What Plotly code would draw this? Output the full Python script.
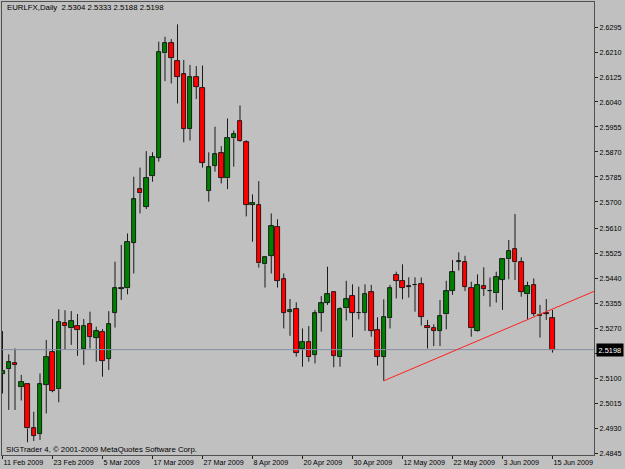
import plotly.graph_objects as go

# ---------------- data ----------------
opens = [2.5116, 2.5131, 2.5153, 2.5070, 2.5080, 2.4930, 2.4911, 2.5078, 2.5189, 2.5063,
         2.5287, 2.5270, 2.5280, 2.5200, 2.5285, 2.5239, 2.5259, 2.5166, 2.5324, 2.5405,
         2.5406, 2.5562, 2.5743, 2.5684, 2.5788, 2.5851, 2.6205, 2.6240, 2.6181, 2.6134,
         2.5947, 2.6126, 2.6089, 2.5737, 2.5824, 2.5865, 2.5780, 2.5916, 2.5977, 2.5903,
         2.5690, 2.5690, 2.5488, 2.5517, 2.5616, 2.5437, 2.5326, 2.5335, 2.5200, 2.5225,
         2.5180, 2.5324, 2.5358, 2.5393, 2.5172, 2.5338, 2.5380, 2.5323, 2.5324, 2.5393,
         2.5265, 2.5174, 2.5304, 2.5452, 2.5432, 2.5413, 2.5418, 2.5421, 2.5278, 2.5273,
         2.5262, 2.5318, 2.5398, 2.5497, 2.5495, 2.5409, 2.5261, 2.5414, 2.5397, 2.5389,
         2.5435, 2.5505, 2.5540, 2.5495, 2.5386, 2.5418, 2.5311, 2.5321, 2.5304]
highs = [2.5261, 2.5182, 2.5202, 2.5112, 2.5083, 2.4987, 2.5117, 2.5231, 2.5302, 2.5335,
         2.5332, 2.5329, 2.5319, 2.5302, 2.5327, 2.5276, 2.5268, 2.5329, 2.5497, 2.5554,
         2.5593, 2.5786, 2.5817, 2.5873, 2.5869, 2.6245, 2.6262, 2.6254, 2.6304, 2.6183,
         2.6166, 2.6162, 2.6164, 2.5869, 2.5956, 2.5890, 2.5984, 2.5943, 2.6028, 2.5910,
         2.5726, 2.5771, 2.5514, 2.5661, 2.5641, 2.5457, 2.5370, 2.5359, 2.5270, 2.5278,
         2.5333, 2.5380, 2.5480, 2.5395, 2.5342, 2.5432, 2.5420, 2.5412, 2.5420, 2.5418,
         2.5308, 2.5369, 2.5418, 2.5463, 2.5488, 2.5444, 2.5444, 2.5443, 2.5299, 2.5284,
         2.5367, 2.5432, 2.5503, 2.5529, 2.5517, 2.5429, 2.5454, 2.5478, 2.5443, 2.5463,
         2.5508, 2.5571, 2.5659, 2.5512, 2.5429, 2.5440, 2.5350, 2.5370, 2.5333]
lows = [2.5049, 2.4993, 2.4993, 2.5025, 2.4883, 2.4887, 2.4891, 2.4981, 2.5053, 2.5019,
        2.5197, 2.5214, 2.5177, 2.5146, 2.5202, 2.5157, 2.5106, 2.5129, 2.5273, 2.5367,
        2.5386, 2.5457, 2.5661, 2.5676, 2.5769, 2.5837, 2.6111, 2.6103, 2.6035, 2.5903,
        2.5909, 2.6050, 2.5817, 2.5701, 2.5803, 2.5763, 2.5744, 2.5820, 2.5905, 2.5651,
        2.5565, 2.5477, 2.5409, 2.5457, 2.5409, 2.5270, 2.5245, 2.5174, 2.5140, 2.5157,
        2.5151, 2.5259, 2.5350, 2.5138, 2.5140, 2.5297, 2.5240, 2.5301, 2.5262, 2.5242,
        2.5144, 2.5092, 2.5270, 2.5372, 2.5369, 2.5375, 2.5327, 2.5280, 2.5202, 2.5210,
        2.5210, 2.5267, 2.5384, 2.5467, 2.5397, 2.5242, 2.5259, 2.5380, 2.5344, 2.5358,
        2.5333, 2.5437, 2.5435, 2.5378, 2.5301, 2.5312, 2.5239, 2.5299, 2.5188]
closes = [2.5125, 2.5155, 2.5145, 2.5089, 2.4930, 2.4904, 2.5080, 2.5174, 2.5059, 2.5291,
          2.5278, 2.5295, 2.5264, 2.5280, 2.5241, 2.5261, 2.5159, 2.5284, 2.5406, 2.5409,
          2.5565, 2.5709, 2.5729, 2.5783, 2.5854, 2.6211, 2.6240, 2.6191, 2.6126, 2.5948,
          2.6124, 2.6092, 2.5834, 2.5818, 2.5862, 2.5783, 2.5919, 2.5931, 2.5907, 2.5690,
          2.5697, 2.5491, 2.5512, 2.5618, 2.5432, 2.5324, 2.5332, 2.5188, 2.5223, 2.5172,
          2.5321, 2.5355, 2.5386, 2.5176, 2.5335, 2.5369, 2.5324, 2.5321, 2.5386, 2.5262,
          2.5174, 2.5310, 2.5406, 2.5432, 2.5409, 2.5412, 2.5417, 2.5310, 2.5270, 2.5262,
          2.5312, 2.5397, 2.5461, 2.5498, 2.5412, 2.5270, 2.5418, 2.5404, 2.5398, 2.5444,
          2.5505, 2.5533, 2.5495, 2.5395, 2.5414, 2.5319, 2.5315, 2.5320, 2.5198]

date_tick_index = [0, 8, 16, 24, 32, 40, 48, 56, 64, 72, 80, 88]
date_tick_labels = ["11 Feb 2009", "23 Feb 2009", "5 Mar 2009", "17 Mar 2009",
                    "27 Mar 2009", "8 Apr 2009", "20 Apr 2009", "30 Apr 2009",
                    "12 May 2009", "22 May 2009", "3 Jun 2009", "15 Jun 2009"]
price_ticks = [2.6295, 2.6210, 2.6125, 2.6040, 2.5955, 2.5870, 2.5785, 2.5700, 2.5610,
               2.5525, 2.5440, 2.5355, 2.5270, 2.5185, 2.5100, 2.5015, 2.4930, 2.4845]

trend_x = [61, 86]
trend_y = [2.5092, 2.5318]
last_price = 2.5198
header = "EURLFX,Daily  2.5304 2.5333 2.5188 2.5198"
footer = "SIGTrader 4, \u00a9 2001-2009 MetaQuotes Software Corp."

# ---------------- styles ----------------
BG = "#C0C0C0"
UP = "#008000"
DOWN = "#FF0000"
FONT = "Liberation Sans"

n = len(opens)
xs = list(range(n))

fig = go.Figure()

# wicks: upper (high -> body top) and lower (body bottom -> low) segments,
# so that no line is drawn across the bodies
wx, wy = [], []
for i in xs:
    top = max(opens[i], closes[i])
    bot = min(opens[i], closes[i])
    wx += [i, i, None, i, i, None]
    wy += [highs[i], top, None, bot, lows[i], None]
fig.add_trace(go.Scatter(x=wx, y=wy, mode="lines",
                         line=dict(color="#1a1a1a", width=1),
                         hoverinfo="skip", showlegend=False))

# bodies
body_base = [min(o, c) for o, c in zip(opens, closes)]
body_h = [abs(c - o) for o, c in zip(opens, closes)]
body_col = [UP if c >= o else DOWN for o, c in zip(opens, closes)]
fig.add_trace(go.Bar(x=xs, y=body_h, base=body_base, width=0.72,
                     marker=dict(color=body_col, line=dict(color="black", width=0.8)),
                     showlegend=False))

# bid line
fig.add_trace(go.Scatter(x=[-1, 100], y=[last_price, last_price], mode="lines",
                         line=dict(color="#8090A4", width=1),
                         hoverinfo="skip", showlegend=False))

# trendline (ray)
slope = (trend_y[1] - trend_y[0]) / (trend_x[1] - trend_x[0])
ray_end = 100
fig.add_trace(go.Scatter(x=[trend_x[0], ray_end],
                         y=[trend_y[0], trend_y[0] + slope * (ray_end - trend_x[0])],
                         mode="lines", line=dict(color="#FF2020", width=1),
                         hoverinfo="skip", showlegend=False))

W, H = 625, 469
ML, MR, MT, MB = 2, 31, 2, 14
plot_h = H - MT - MB

# the bid-price box covers the 2.5185 label in the reference
price_tick_text = ["" if abs(v - 2.5185) < 1e-9 else f"{v:.4f}" for v in price_ticks]

fig.update_layout(
    width=W, height=H,
    margin=dict(l=ML, r=MR, t=MT, b=MB, pad=0, autoexpand=False),
    paper_bgcolor=BG, plot_bgcolor=BG,
    barmode="overlay", bargap=0,
    font=dict(family=FONT, size=7, color="black"),
    xaxis=dict(range=[-0.08, 94.64], tickmode="array", tickvals=date_tick_index,
               ticktext=date_tick_labels, ticks="outside", ticklen=3, tickcolor="#202020",
               ticklabelposition="outside right", tickangle=0, automargin=False,
               showgrid=False, zeroline=False, showline=True, linecolor="#505050",
               linewidth=1, mirror=True, tickfont=dict(size=7.2, family=FONT)),
    yaxis=dict(range=[2.48397, 2.63800], side="right", tickmode="array",
               tickvals=price_ticks, ticktext=price_tick_text, automargin=False,
               ticks="outside", ticklen=3, tickcolor="#202020",
               showgrid=False, zeroline=False, showline=True, linecolor="#505050",
               linewidth=1, mirror=True, tickfont=dict(size=7.2, family=FONT)),
    hovermode=False,
)

fig.add_annotation(text=header, xref="paper", yref="paper",
                   x=3 / (W - ML - MR), y=(plot_h - 5.5) / plot_h,
                   xanchor="left", yanchor="middle", showarrow=False,
                   font=dict(size=7.8, family=FONT, color="black"))
fig.add_annotation(text=footer, xref="paper", yref="paper",
                   x=2 / (W - ML - MR), y=6 / plot_h,
                   xanchor="left", yanchor="middle", showarrow=False,
                   font=dict(size=7.8, family=FONT, color="black"))
fig.add_annotation(text=f"{last_price:.4f}", xref="paper", yref="y",
                   x=1.004, y=last_price, xanchor="left", yanchor="middle",
                   showarrow=False, bgcolor="black", borderpad=1.5,
                   font=dict(size=7.4, family=FONT, color="white"))

fig.write_html("out.html")
